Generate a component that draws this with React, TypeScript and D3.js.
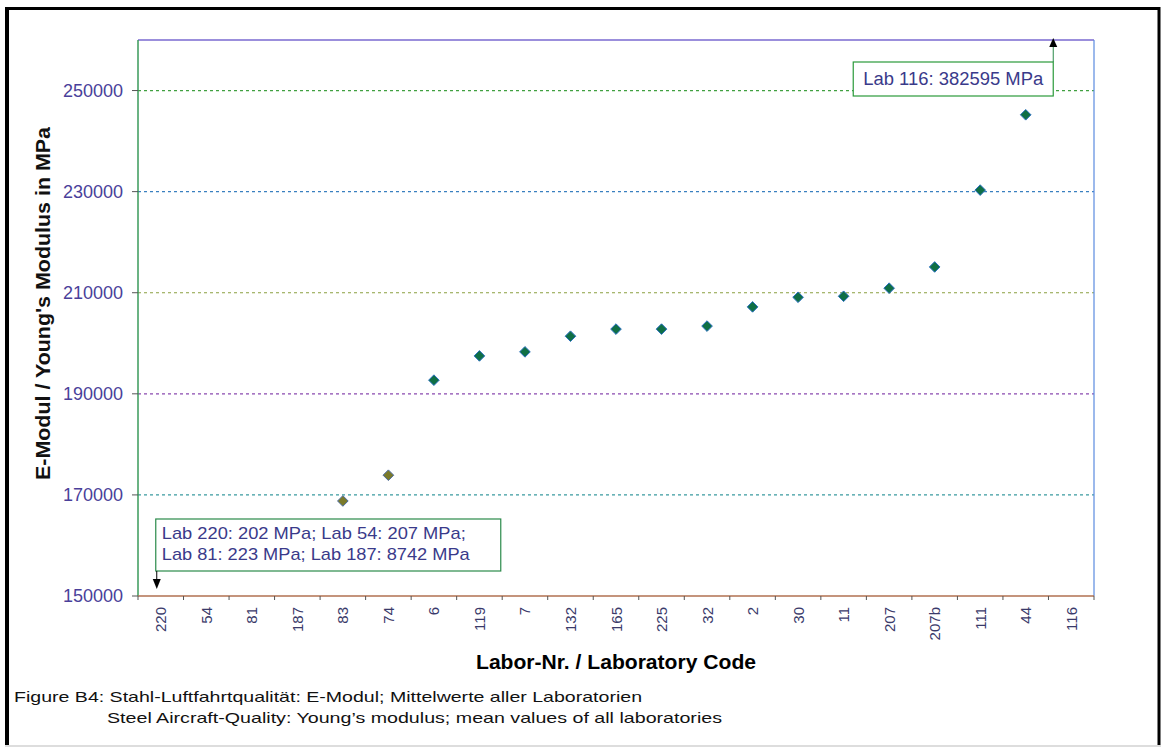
import React from "react";
import * as d3 from "d3";

const labs = ["220","54","81","187","83","74","6","119","7","132","165","225","32","2","30","11","207","207b","111","44","116"];
const modulus = [202, 207, 223, 8742, 168800, 173900, 192700, 197500, 198300, 201400, 202800, 202800, 203400, 207200, 209100, 209300, 210900, 215100, 230300, 245200, 382595];
const yTicks = [150000, 170000, 190000, 210000, 230000, 250000];
const gridColors = ["#b04040", "#3a9aa0", "#8a4ab0", "#8aa040", "#3a80c0", "#40a040"];
const olivePoints = ["83", "74"];
const lowLabs = ["220", "54", "81", "187"];
const highLabs = ["116"];

const W = 1161, H = 749;
const left = 138, right = 1094, top = 40, bottom = 596;

export default function App() {
  const x = d3.scaleBand<string>().domain(labs).range([left, right]).padding(0);
  const y = d3.scaleLinear().domain([150000, 260000]).range([bottom, top]);
  const [y0, y1] = y.domain();
  const pts = labs.map((l, i) => ({ lab: l, v: modulus[i] })).filter(d => d.v >= y0 && d.v <= y1);
  const low = lowLabs.map(l => `Lab ${l}: ${modulus[labs.indexOf(l)]} MPa`);
  const high = highLabs.map(l => `Lab ${l}: ${modulus[labs.indexOf(l)]} MPa`);
  const bw = x.bandwidth();
  const cx = (l: string) => (x(l) as number) + bw / 2;
  const diamond = d3.symbol().type(d3.symbolDiamond2).size(72)();
  const lowX = cx(lowLabs[0]) - 5;
  const highX = cx(highLabs[0]) - 18;
  const font = "Arial, 'Liberation Sans', sans-serif";
  const annColor = "#3a3a8a";
  return (
    <svg width={W} height={H} style={{ position: "absolute", left: 0, top: 0, background: "#fff" }} fontFamily={font}>
      <rect x={0} y={0} width={W} height={H} fill="#fff" />
      {/* frame */}
      <line x1={7} y1={7} x2={7} y2={745} stroke="#000" strokeWidth={4} />
      <line x1={5} y1={8.5} x2={1160} y2={8.5} stroke="#000" strokeWidth={3} />
      <line x1={1159} y1={7} x2={1159} y2={745} stroke="#000" strokeWidth={3} />
      <line x1={5} y1={746} x2={1161} y2={746} stroke="#ddd" strokeWidth={2} />
      {/* grid */}
      {yTicks.slice(1).map((t, i) => (
        <line key={t} x1={left} x2={right} y1={y(t)} y2={y(t)} stroke={gridColors[i + 1]} strokeWidth={1.2} strokeDasharray="3,3" />
      ))}
      {/* plot border */}
      <line x1={left} y1={top} x2={right} y2={top} stroke="#7a6ad0" strokeWidth={1.5} />
      <line x1={right} y1={top} x2={right} y2={bottom} stroke="#5a8ae0" strokeWidth={1.2} />
      <line x1={left} y1={top} x2={left} y2={bottom} stroke="#3a9a5a" strokeWidth={1.5} />
      <line x1={left} y1={bottom} x2={right} y2={bottom} stroke="#b07050" strokeWidth={1.5} />
      {/* y ticks */}
      {yTicks.map(t => (
        <g key={t}>
          <line x1={left - 6} x2={left} y1={y(t)} y2={y(t)} stroke="#555" />
          <text x={left - 15} y={y(t)} dy="0.35em" textAnchor="end" fontSize={18} fill="#4a3f9a">{t}</text>
        </g>
      ))}
      {/* x ticks */}
      {labs.map(l => (
        <line key={"t" + l} x1={x(l)} x2={x(l)} y1={bottom} y2={bottom + 4} stroke="#555" />
      ))}
      <line x1={right} x2={right} y1={bottom} y2={bottom + 4} stroke="#555" />
      {labs.map(l => (
        <text key={"l" + l} transform={`translate(${cx(l) + 5.5},${607}) rotate(-90)`} textAnchor="end" fontSize={15} fill="#3a3a6a">{l}</text>
      ))}
      {/* points */}
      {pts.map(d => (
        <path key={d.lab} d={diamond} transform={`translate(${cx(d.lab)},${y(d.v)})`}
          fill={olivePoints.includes(d.lab) ? "#7a7a2a" : "#0f6f45"} stroke={olivePoints.includes(d.lab) ? "#4a6aa0" : "#2a70c0"} strokeWidth={1} />
      ))}
      {/* low annotation */}
      <rect x={lowX} y={519} width={345} height={52} fill="#fff" stroke="#2a8a4a" strokeWidth={1.2} />
      <text x={lowX + 6} y={539} fontSize={17} fill={annColor} textLength={304} lengthAdjust="spacingAndGlyphs">{low.slice(0, 2).join("; ") + ";"}</text>
      <text x={lowX + 6} y={560} fontSize={17} fill={annColor} textLength={308} lengthAdjust="spacingAndGlyphs">{low.slice(2).join("; ")}</text>
      <line x1={lowX + 1} x2={lowX + 1} y1={571} y2={581} stroke="#000" />
      <path d={`M${lowX - 3},${579} L${lowX + 5},${579} L${lowX + 1},${589} Z`} fill="#000" />
      {/* high annotation */}
      <rect x={highX - 200} y={62} width={200} height={34} fill="#fff" stroke="#2a9a3a" strokeWidth={1.2} />
      <text x={highX - 190} y={85} fontSize={18} fill={annColor} textLength={180} lengthAdjust="spacingAndGlyphs">{high[0]}</text>
      <line x1={highX} x2={highX} y1={62} y2={46} stroke="#2a8a4a" />
      <path d={`M${highX - 4},${47} L${highX + 4},${47} L${highX},${38} Z`} fill="#000" />
      {/* titles */}
      <text transform={`translate(49.5,${303.5}) rotate(-90)`} textAnchor="middle" fontSize={20} fontWeight="bold" fill="#111" textLength={353} lengthAdjust="spacingAndGlyphs">E-Modul / Young's Modulus in MPa</text>
      <text x={476} y={669} fontSize={20} fontWeight="bold" fill="#000" textLength={280} lengthAdjust="spacingAndGlyphs">Labor-Nr. / Laboratory Code</text>
      <text x={14} y={702} fontSize={15} fill="#111" textLength={628} lengthAdjust="spacingAndGlyphs">Figure B4: Stahl-Luftfahrtqualität: E-Modul; Mittelwerte aller Laboratorien</text>
      <text x={107} y={722.5} fontSize={15} fill="#111" textLength={615} lengthAdjust="spacingAndGlyphs">Steel Aircraft-Quality: Young’s modulus; mean values of all laboratories</text>
    </svg>
  );
}
